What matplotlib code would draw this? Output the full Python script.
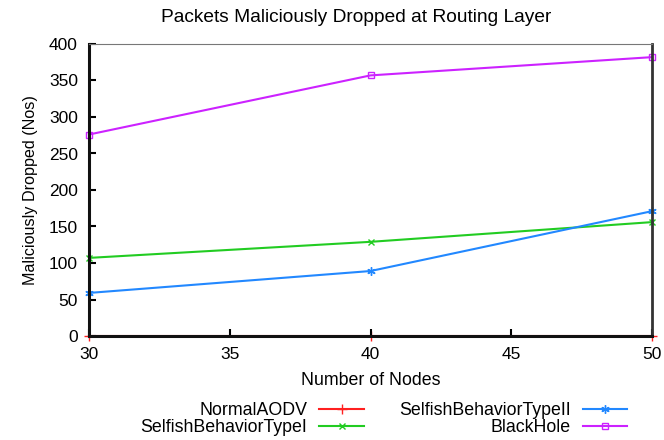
import matplotlib
matplotlib.use("Agg")
import matplotlib.pyplot as plt

plt.rcParams['font.family'] = ['Liberation Sans', 'DejaVu Sans']

nodes = [30, 40, 50]
normal_aodv = [0, 0, 0]
selfish_1 = [107, 129, 156]
selfish_2 = [59, 89, 171]
blackhole = [276, 357, 382]

fig = plt.figure(figsize=(6.64, 4.4), dpi=100)
ax = fig.add_axes([89/664, 1-336/440, (652-89)/664, (336-44)/440])

ax.plot(nodes, normal_aodv, color='#ff2020', marker='+', ms=7, lw=1.5, label='NormalAODV', clip_on=False, zorder=1.5)
ax.plot(nodes, selfish_1, color='#22cc22', marker='x', ms=5, lw=1.5, label='SelfishBehaviorTypeI', clip_on=False)
ax.plot(nodes, selfish_2, color='#2288ff', marker=(6, 2, 0), ms=6, lw=1.5, label='SelfishBehaviorTypeII', clip_on=False)
ax.plot(nodes, blackhole, color='#cc22ff', marker='s', mfc='none', ms=5, lw=1.5, label='BlackHole', clip_on=False)

ax.set_xlim(30, 50)
ax.set_ylim(0, 400)
ax.set_xticks([30, 35, 40, 45, 50])
ax.set_yticks(range(0, 401, 50))
ax.tick_params(direction='in', length=5, labelsize=12.5, width=1.5, top=False, right=False)
ax.tick_params(axis='x', pad=8)
ax.tick_params(axis='y', pad=8)
for s in ['left', 'bottom']:
    ax.spines[s].set_linewidth(2.2)
    ax.spines[s].set_color('#111111')
ax.spines['right'].set_linewidth(2)
ax.spines['right'].set_color('#333333')
ax.spines['top'].set_linewidth(0.8)
ax.spines['top'].set_color('#777777')
for s in ax.spines.values():
    s.set_zorder(2.5)

fig.text(356/664, 1-17/440, 'Packets Maliciously Dropped at Routing Layer', fontsize=13.8,
         ha='center', va='center')
ax.set_xlabel('Number of Nodes', fontsize=12.8, labelpad=7)
ax.set_ylabel('Maliciously Dropped (Nos)', fontsize=11.6, labelpad=8)

leg = fig.legend(loc='upper center', bbox_to_anchor=(384/664, 1-393/440), ncol=2, markerfirst=False,
                 frameon=False, fontsize=12.8, handlelength=2.5, columnspacing=2.0, labelspacing=0.0,
                 handletextpad=0.67, borderpad=0.0)

fig.savefig('out.png', dpi=100)
